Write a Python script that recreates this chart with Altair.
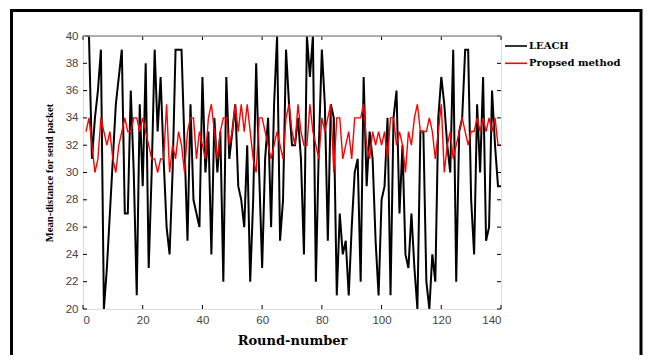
import altair as alt
import pandas as pd

rounds = list(range(1, 141))

leach = [40, 40, 31, 34, 36, 39, 20, 23, 27, 31,
         35, 37, 39, 27, 27, 36, 30, 21, 35, 29,
         38, 23, 30, 39, 33, 37, 31, 26, 24, 30,
         39, 39, 39, 32, 25, 35, 28, 27, 26, 37,
         30, 33, 24, 34, 30, 33, 22, 37, 31, 33,
         35, 29, 28, 26, 32, 22, 28, 38, 30, 23,
         31, 34, 26, 35, 40, 25, 28, 39, 35, 32,
         32, 34, 31, 24, 40, 37, 40, 22, 32, 39,
         35, 25, 35, 34, 21, 27, 24, 25, 21, 26,
         30, 31, 22, 37, 29, 33, 31, 25, 21, 28,
         29, 34, 21, 34, 36, 27, 32, 24, 23, 27,
         23, 20, 33, 33, 22, 20, 24, 22, 34, 37,
         35, 32, 30, 39, 22, 33, 34, 39, 39, 28,
         24, 35, 30, 37, 25, 26, 36, 32, 29, 29]

proposed = [33, 34, 32, 30, 31, 34, 33, 32, 33, 31,
            30, 32, 33, 34, 33, 33, 34, 34, 33, 34,
            33, 32, 31, 31, 30, 31, 31, 35, 30, 32,
            31, 33, 32, 30, 33, 34, 34, 31, 33, 32,
            31, 34, 35, 33, 31, 33, 34, 34, 32, 33,
            35, 33, 35, 33, 35, 33, 31, 30, 34, 34,
            33, 32, 31, 32, 33, 32, 31, 34, 35, 33,
            32, 35, 33, 32, 32, 35, 33, 32, 31, 34,
            33, 34, 35, 30, 34, 34, 31, 32, 33, 31,
            34, 34, 34, 35, 32, 31, 33, 32, 33, 32,
            33, 31, 34, 34, 32, 33, 32, 30, 33, 32,
            34, 35, 33, 33, 33, 34, 33, 31, 33, 35,
            30, 32, 33, 31, 32, 33, 34, 33, 32, 33,
            33, 34, 33, 34, 33, 34, 33, 34, 32, 32]

series_names = ["LEACH", "Propsed method"]
series_colors = ["#000000", "#ff0000"]
series_widths = [2.0, 1.4]
x_ticks = [0, 20, 40, 60, 80, 100, 120, 140]
y_ticks = [20, 22, 24, 26, 28, 30, 32, 34, 36, 38, 40]
x_title = "Round-number"
y_title = "Mean-distance for send packet"

W, H = 418, 273

df = pd.DataFrame({
    "round": rounds + rounds,
    "value": leach + proposed,
    "series": [series_names[0]] * len(rounds) + [series_names[1]] * len(rounds),
})

xscale = alt.Scale(domain=[0, 140], nice=False, zero=False)
yscale = alt.Scale(domain=[20, 40], nice=False, zero=False)

x_axis = alt.Axis(values=x_ticks, ticks=False, grid=False, domain=False,
                  labelFont="Liberation Sans", labelFontSize=11.5, labelColor="#444444",
                  labelPadding=5, title=x_title, titleFont="DejaVu Serif",
                  titleFontWeight="bold", titleFontSize=13, titleColor="#000000",
                  titlePadding=9)
y_axis = alt.Axis(values=y_ticks, ticks=False, grid=False, domain=False,
                  labelFont="Liberation Sans", labelFontSize=11.5, labelColor="#444444",
                  labelPadding=5, title=y_title, titleFont="Liberation Serif",
                  titleFontWeight="bold", titleFontSize=10.6, titleColor="#000000",
                  titlePadding=11)

lines = alt.Chart(df).mark_line(strokeJoin="miter").encode(
    x=alt.X("round:Q", scale=xscale, axis=x_axis),
    y=alt.Y("value:Q", scale=yscale, axis=y_axis),
    color=alt.Color("series:N", scale=alt.Scale(domain=series_names, range=series_colors), legend=None),
    strokeWidth=alt.StrokeWidth("series:N", scale=alt.Scale(domain=series_names, range=series_widths), legend=None),
)

xt = pd.DataFrame({"t": x_ticks})
yt = pd.DataFrame({"t": y_ticks})

tick_layers = [
    alt.Chart(xt).mark_rule(color="black", strokeWidth=1).encode(
        x=alt.X("t:Q", scale=xscale, axis=x_axis), y=alt.value(H), y2=alt.value(H - 4)),
    alt.Chart(xt).mark_rule(color="black", strokeWidth=1).encode(
        x=alt.X("t:Q", scale=xscale, axis=x_axis), y=alt.value(0), y2=alt.value(4)),
    alt.Chart(yt).mark_rule(color="black", strokeWidth=1).encode(
        y=alt.Y("t:Q", scale=yscale, axis=y_axis), x=alt.value(0), x2=alt.value(4)),
    alt.Chart(yt).mark_rule(color="black", strokeWidth=1).encode(
        y=alt.Y("t:Q", scale=yscale, axis=y_axis), x=alt.value(W), x2=alt.value(W - 4)),
]

one = pd.DataFrame({"k": [0]})
top_edge = alt.Chart(one).mark_rule(color="#999999", strokeWidth=1.5).encode(
    x=alt.value(0), x2=alt.value(W), y=alt.value(0))

frame = alt.Chart(one).mark_rect(fillOpacity=0, stroke="black", strokeWidth=3).encode(
    x=alt.value(-71.5), x2=alt.value(558), y=alt.value(-25.5), y2=alt.value(335))

legend_layers = []
for i, (name, color) in enumerate(zip(series_names, series_colors)):
    ldf = pd.DataFrame({"series": [name]})
    yy = 10 + 17.3 * i
    legend_layers.append(alt.Chart(ldf).mark_rule(color=color, strokeWidth=1.6).encode(
        x=alt.value(422), x2=alt.value(444), y=alt.value(yy)))
    legend_layers.append(alt.Chart(ldf).mark_text(
        align="left", baseline="middle", font="DejaVu Serif", fontWeight="bold",
        fontSize=10, color="black").encode(
        x=alt.value(446), y=alt.value(yy), text="series:N"))

chart = alt.layer(frame, lines, *tick_layers, top_edge, *legend_layers).properties(
    width=W, height=H,
    autosize=alt.AutoSizeParams(type="none"),
    padding={"left": 75, "top": 28, "right": 144, "bottom": 46},
).configure_view(stroke="black", strokeWidth=1).configure(background="white")

chart.save("out.html", embed_options={"renderer": "svg", "actions": False})
